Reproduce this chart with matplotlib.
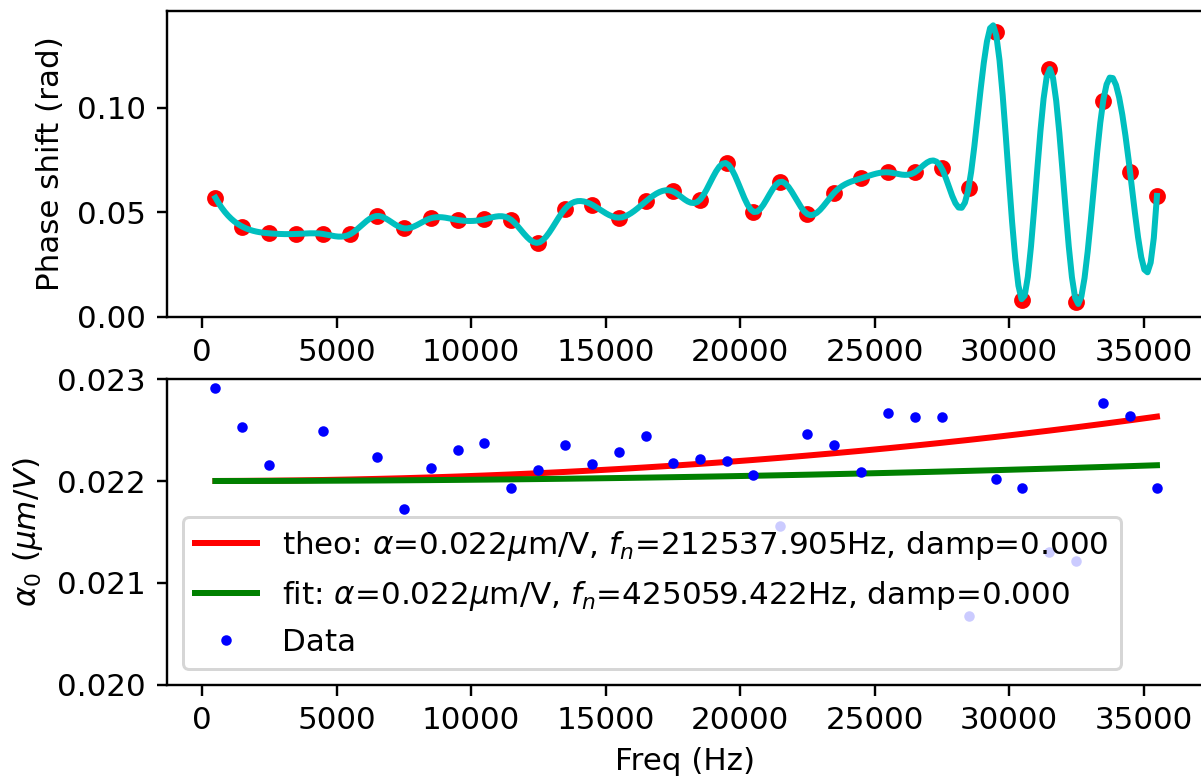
import numpy as np
import matplotlib
matplotlib.use("Agg")
import matplotlib.pyplot as plt

# ---- data ----
freq = [500, 1500, 2500, 3500, 4500, 5500, 6500, 7500, 8500, 9500, 10500, 11500,
        12500, 13500, 14500, 15500, 16500, 17500, 18500, 19500, 20500, 21500, 22500,
        23500, 24500, 25500, 26500, 27500, 28500, 29500, 30500, 31500, 32500, 33500,
        34500, 35500]

phase = [0.0569, 0.0431, 0.0399, 0.0396, 0.0396, 0.0394, 0.0482, 0.0423, 0.0471,
         0.0463, 0.0466, 0.0463, 0.0354, 0.0517, 0.0536, 0.0474, 0.0552, 0.0600,
         0.0558, 0.0734, 0.0502, 0.0646, 0.0491, 0.0593, 0.0662, 0.0691, 0.0691,
         0.0710, 0.0617, 0.1364, 0.0080, 0.1185, 0.0072, 0.1032, 0.0694, 0.0578]

alpha_data = [0.022913, 0.022531, 0.022152, 0.023300, 0.022492, 0.023200, 0.022240,
              0.021728, 0.022123, 0.022304, 0.022369, 0.021929, 0.022110, 0.022356,
              0.022168, 0.022282, 0.022437, 0.022178, 0.022211, 0.022194, 0.022055,
              0.021556, 0.022456, 0.022350, 0.022087, 0.022667, 0.022631, 0.022631,
              0.020673, 0.022023, 0.021935, 0.021301, 0.021214, 0.022761, 0.022638,
              0.021935]

theo_alpha, theo_fn, theo_damp = 0.022, 212537.905, 0.000
fit_alpha, fit_fn, fit_damp = 0.022, 425059.422, 0.000

theo_label = r'theo: $\alpha$=0.022$\mu$m/V, $f_n$=212537.905Hz, damp=0.000'
fit_label = r'fit: $\alpha$=0.022$\mu$m/V, $f_n$=425059.422Hz, damp=0.000'


def smoothest_spline(x, y, xs):
    """Interpolating cubic spline minimising the jumps of the third
    derivative at the interior knots (old scipy 'smoothest' spline)."""
    x = np.asarray(x, float)
    y = np.asarray(y, float)
    n = len(x)
    h = np.diff(x)
    # interpolation constraints on second derivatives M
    A = np.zeros((n - 2, n))
    b = np.zeros(n - 2)
    for i in range(1, n - 1):
        A[i - 1, i - 1] = h[i - 1]
        A[i - 1, i] = 2 * (h[i - 1] + h[i])
        A[i - 1, i + 1] = h[i]
        b[i - 1] = 6 * ((y[i + 1] - y[i]) / h[i] - (y[i] - y[i - 1]) / h[i - 1])
    # third-derivative jumps at interior knots
    D = np.zeros((n - 2, n))
    for j in range(1, n - 1):
        D[j - 1, j + 1] += 1 / h[j]
        D[j - 1, j] += -1 / h[j] - 1 / h[j - 1]
        D[j - 1, j - 1] += 1 / h[j - 1]
    Mp = np.linalg.lstsq(A, b, rcond=None)[0]
    _, _, vh = np.linalg.svd(A)
    N = vh[-2:].T
    z = np.linalg.lstsq(D @ N, -(D @ Mp), rcond=None)[0]
    M = Mp + N @ z
    idx = np.clip(np.searchsorted(x, xs) - 1, 0, n - 2)
    x0, x1 = x[idx], x[idx + 1]
    hh = x1 - x0
    return (M[idx] * (x1 - xs) ** 3 / (6 * hh) + M[idx + 1] * (xs - x0) ** 3 / (6 * hh)
            + (y[idx] / hh - M[idx] * hh / 6) * (x1 - xs)
            + (y[idx + 1] / hh - M[idx + 1] * hh / 6) * (xs - x0))


def model(f, a, fn, d):
    r = np.asarray(f, float) / fn
    return a / np.sqrt((1 - r ** 2) ** 2 + (2 * d * r) ** 2)


plt.rcParams['font.size'] = 10.35
DPI = 216
fig = plt.figure(figsize=(1201 / DPI, 779 / DPI), dpi=DPI)
W, H = 1201.0, 779.0
left_px, right_px = 167.0, 1204.0
ax1 = fig.add_axes([left_px / W, 1 - 316.7 / H, (right_px - left_px) / W, (316.7 - 11) / H])
ax2 = fig.add_axes([left_px / W, 1 - 685.0 / H, (right_px - left_px) / W, (685.0 - 379.0) / H])

xs = np.linspace(freq[0], freq[-1], 300)
ax1.plot(freq, phase, 'o', color='red', markersize=4.6)
ax1.plot(xs, smoothest_spline(freq, phase, xs), '-', color='c', linewidth=2)
ax1.set_ylabel('Phase shift (rad)')
ax1.set_ylim(0, 0.1463)
ax1.set_yticks([0.00, 0.05, 0.10])
ax1.set_yticklabels(['0.00', '0.05', '0.10'])

ax2.plot(freq, model(freq, theo_alpha, theo_fn, theo_damp), '-', color='red',
         linewidth=2, label=theo_label)
ax2.plot(freq, model(freq, fit_alpha, fit_fn, fit_damp), '-', color='green',
         linewidth=2, label=fit_label)
ax2.plot(freq, alpha_data, '.', color='blue', markersize=5, label='Data')
ax2.set_ylim(0.020, 0.023)
ax2.set_yticks([0.020, 0.021, 0.022, 0.023])
ax2.set_yticklabels(['0.020', '0.021', '0.022', '0.023'])
ax2.set_ylabel(r'$\alpha_0\ (\mu m/V)$')
ax2.set_xlabel('Freq (Hz)')
ax2.legend(loc='lower left')

px_per_hz = 134.5 / 5000.0
xmin = -(202.0 - left_px) / px_per_hz
xmax = xmin + (right_px - left_px) / px_per_hz
for ax in (ax1, ax2):
    ax.set_xlim(xmin, xmax)
    ax.set_xticks([0, 5000, 10000, 15000, 20000, 25000, 30000, 35000])

fig.savefig('out.png', dpi=DPI)
